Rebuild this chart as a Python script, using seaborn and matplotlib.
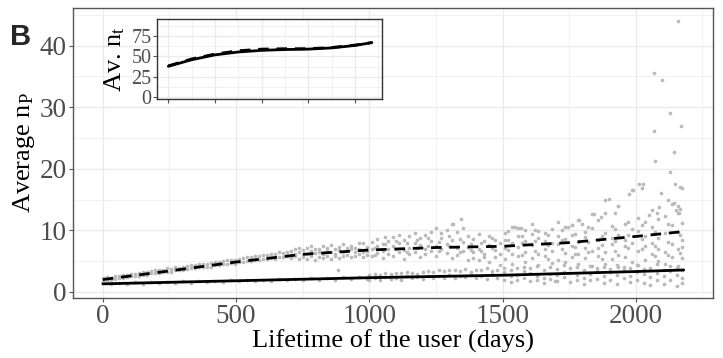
import numpy as np
import pandas as pd
import matplotlib
matplotlib.use("Agg")
import matplotlib.pyplot as plt
from matplotlib.ticker import MultipleLocator
import seaborn as sns

# ---------------- data ----------------
trend_days = [0, 250, 500, 750, 1000, 1250, 1500, 1750, 2000, 2180]
np_dashed = [2.0, 3.4, 4.85, 6.1, 6.8, 7.2, 7.4, 8.0, 9.0, 9.8]
np_solid = [1.3, 1.55, 1.8, 2.05, 2.3, 2.5, 2.7, 3.0, 3.3, 3.55]

inset_days = [0, 250, 500, 750, 1000, 1250, 1500, 1750, 2000, 2180]
nt_dashed = [38.5, 47.0, 53.0, 57.0, 59.0, 59.5, 59.5, 61.0, 64.0, 67.0]
nt_solid = [38.0, 46.0, 52.0, 55.5, 57.5, 58.5, 59.0, 60.5, 63.5, 67.0]

upper_a_days = [0, 15, 30, 45, 60, 75, 90, 105, 120, 135, 150, 165, 180, 195, 210, 225,
                240, 255, 270, 285, 300, 315, 330, 345, 360, 375, 390, 405, 420, 435, 450,
                465, 480, 495, 510, 525, 540, 555, 570, 585, 600, 615, 630, 645, 660, 675, 690]
upper_a_vals = [[2.3, 1.8], [2.0, 2.4], [2.2, 1.9], [2.5, 2.1], [2.2, 2.6], [2.7, 2.3],
                [2.4, 2.8], [2.9, 2.5], [2.6, 2.9], [3.1, 2.6], [2.8, 3.2], [3.2, 2.8],
                [3.0, 3.4], [3.5, 3.0], [3.1, 3.5], [3.6, 3.2], [3.3, 3.8], [3.7, 3.3],
                [3.5, 4.0], [3.9, 3.5], [3.6, 4.1], [4.2, 3.7], [3.8, 4.3], [4.3, 3.8],
                [4.0, 4.5], [4.5, 4.0], [4.1, 4.6], [4.7, 4.1], [4.3, 4.8], [4.8, 4.3],
                [4.5, 5.0], [5.1, 4.5], [4.7, 5.2], [5.2, 4.6], [4.8, 5.4], [5.5, 4.9],
                [5.0, 5.6], [5.6, 5.0], [5.2, 5.8], [5.8, 5.1], [5.4, 6.0], [6.0, 5.3],
                [5.5, 6.2], [6.1, 5.4], [5.7, 6.4], [6.3, 5.6], [5.8, 6.5]]

upper_b_days = [705, 720, 735, 750, 765, 780, 795, 810, 825, 840, 855, 870, 885, 900,
                915, 930, 945, 960, 975, 990]
upper_b_vals = [[6.6, 5.5, 6.0], [5.8, 6.9, 6.2], [6.4, 5.3, 7.1], [6.0, 6.8, 5.6],
                [7.2, 6.2, 5.4], [5.9, 6.6, 7.4], [6.3, 5.2, 7.0], [6.9, 5.7, 6.4],
                [6.1, 7.5, 5.5], [6.7, 5.9, 7.1], [5.4, 6.5, 7.6], [6.2, 7.0, 5.8],
                [6.8, 5.5, 7.3], [6.4, 7.8, 5.9], [7.1, 6.0, 6.6], [5.7, 6.9, 7.5],
                [6.5, 7.2, 5.8], [7.0, 6.2, 8.0], [6.4, 7.9, 5.6], [7.3, 6.6, 6.0]]

upper_c_days = [1010, 1030, 1050, 1070, 1090, 1110, 1130, 1150, 1170, 1190, 1210, 1230,
                1250, 1270, 1290, 1310, 1330, 1350, 1370, 1390, 1410, 1430, 1450, 1470, 1490]
upper_c_vals = [[6.9, 8.1, 5.9], [7.5, 6.3, 8.6], [6.6, 7.8, 5.5], [8.3, 7.0, 6.1],
                [7.4, 8.9, 5.8], [6.5, 7.9, 9.2], [8.5, 6.8, 5.4], [7.2, 9.0, 6.2],
                [8.0, 6.4, 9.6], [7.6, 5.6, 8.7], [9.3, 7.0, 6.1], [8.2, 6.6, 9.8],
                [7.4, 10.3, 5.8], [8.8, 6.9, 9.5], [7.7, 10.1, 6.3], [8.5, 5.5, 11.1],
                [9.8, 7.2, 6.0], [8.1, 10.4, 6.7], [7.3, 9.1, 5.2], [8.6, 6.4, 5.5],
                [7.0, 9.4, 5.2], [8.3, 6.1, 5.7], [7.6, 9.0, 4.9], [6.8, 8.4, 5.6],
                [7.9, 6.2, 4.4]]

upper_d_days = [1510, 1535, 1560, 1585, 1610, 1635, 1660, 1685, 1710, 1735, 1760, 1785,
                1810, 1835, 1860, 1885, 1910, 1935, 1960, 1985, 2010, 2035, 2060, 2085,
                2110, 2135, 2160, 2175]
upper_d_vals = [[7.1, 9.5, 5.3, 8.4], [6.2, 10.6, 8.0, 4.6], [9.0, 7.3, 5.8, 10.3],
                [8.2, 6.5, 10.1, 4.9], [7.6, 9.4, 5.5, 11.0], [8.7, 6.1, 4.3, 9.9],
                [7.0, 9.6, 5.9, 8.3], [10.2, 6.6, 8.0, 4.7], [7.8, 9.1, 5.2, 11.4],
                [6.3, 8.6, 10.5, 4.9], [9.3, 7.4, 5.6, 10.9], [8.1, 6.2, 11.6, 4.5],
                [7.2, 9.8, 5.5, 8.9], [10.4, 6.7, 4.2, 12.6], [8.4, 5.8, 11.7, 7.1],
                [9.6, 6.4, 4.6, 12.8], [7.7, 10.7, 5.3, 8.8], [9.2, 6.0, 13.9, 4.1],
                [11.1, 7.5, 5.6, 8.5], [8.0, 10.2, 4.8, 16.5], [9.9, 6.6, 12.0, 4.3],
                [7.4, 11.3, 5.2, 9.1], [10.6, 6.2, 13.3, 8.0], [8.7, 5.0, 11.8, 7.0],
                [9.5, 6.4, 12.4, 4.5], [7.8, 10.9, 5.6, 14.3], [9.8, 6.9, 12.8, 4.2],
                [8.4, 11.2, 5.5, 7.3]]

# extra points filling the denser middle/late part of the upper cloud
upper_e_days = [1020, 1060, 1100, 1140, 1180, 1220, 1260, 1300, 1340, 1380, 1420, 1460,
                1522, 1572, 1622, 1672, 1722, 1772, 1822, 1872, 1922, 1972, 2022, 2072,
                2122, 2168]
upper_e_vals = [[7.2, 6.0], [7.7, 8.9], [6.9, 8.2], [7.9, 6.5], [8.4, 7.1], [7.5, 8.8],
                [6.7, 8.1], [7.4, 9.0], [8.6, 6.5], [7.8, 6.8], [8.0, 6.6], [7.2, 8.8],
                [8.5, 6.8, 9.9], [7.9, 6.0, 9.1], [8.3, 6.7, 10.1], [7.6, 9.2, 5.4],
                [8.4, 6.9, 10.0], [7.3, 9.4, 6.1], [8.1, 10.6, 6.4], [9.0, 7.6, 5.3],
                [8.2, 10.2, 6.7], [9.3, 7.1, 11.4], [8.6, 10.8, 6.9], [9.7, 7.4, 5.8],
                [8.1, 11.0, 6.0], [9.2, 13.5, 6.3]]

lower_a_days = [0, 30, 60, 90, 120, 150, 180, 210, 240, 270, 300, 330, 360, 390, 420, 450,
                480, 510, 540, 570, 600, 630, 660, 690, 720, 750, 780, 810, 840, 870, 900,
                930, 960, 990]
lower_a_vals = [1.4, 1.2, 1.5, 1.3, 1.55, 1.35, 1.6, 1.4, 1.65, 1.45, 1.7, 1.5, 1.75, 1.55,
                1.8, 1.6, 1.85, 1.7, 1.95, 1.75, 2.0, 1.8, 2.05, 1.85, 2.15, 1.9, 2.2, 1.95,
                2.3, 2.0, 2.35, 2.1, 2.45, 2.15]

lower_b_days = [1000, 1020, 1040, 1060, 1080, 1100, 1120, 1140, 1160, 1180, 1200, 1220,
                1240, 1260, 1280, 1300, 1320, 1340, 1360, 1380, 1400, 1420, 1440, 1460, 1480]
lower_b_vals = [[2.7, 2.0], [2.2, 2.9], [2.8, 1.9], [2.4, 3.0], [2.9, 2.1], [2.3, 3.1],
                [3.0, 2.0], [2.5, 3.2], [3.1, 2.2], [2.4, 2.9], [3.2, 2.1], [2.6, 3.4],
                [3.3, 2.2], [2.5, 3.5], [3.4, 2.3], [2.7, 3.6], [3.5, 2.2], [2.6, 3.4],
                [3.7, 2.4], [2.8, 3.3], [3.6, 2.3], [2.5, 3.5], [3.8, 2.1], [2.9, 3.4],
                [3.5, 2.2]]

lower_c_days = [1505, 1530, 1555, 1580, 1605, 1630, 1655, 1680, 1705, 1730, 1755, 1780,
                1805, 1830, 1855, 1880, 1905, 1930, 1955, 1980, 2005, 2030, 2055, 2080,
                2105, 2130, 2155, 2175]
lower_c_vals = [[3.2, 2.0, 3.9], [2.5, 3.6, 1.6], [3.9, 2.8, 1.9], [2.2, 3.4, 4.1],
                [3.0, 1.7, 3.8], [2.6, 4.2, 2.0], [3.5, 2.3, 1.4], [2.9, 4.0, 2.1],
                [3.7, 1.8, 2.7], [2.4, 3.3, 4.3], [3.1, 1.6, 3.9], [2.7, 4.1, 2.0],
                [3.6, 2.3, 1.3], [2.9, 4.2, 1.9], [3.4, 2.1, 3.8], [2.5, 4.0, 1.5],
                [3.2, 1.9, 3.7], [2.8, 4.3, 1.2], [3.5, 2.2, 4.0], [2.6, 3.9, 1.6],
                [3.3, 2.0, 4.4], [2.9, 1.4, 3.7], [3.8, 2.4, 1.1], [3.1, 4.5, 2.0],
                [2.6, 3.6, 1.3], [3.4, 1.9, 4.2], [2.8, 3.9, 1.0], [3.6, 2.3, 1.5]]

outlier_days = [2159, 2068, 2099, 2127, 2171, 2068, 2142, 2071, 2128, 2013, 2028, 2022,
                1975, 2148, 2166, 2174, 2096, 1886, 1899, 2122, 2143, 2159, 2086, 2049,
                1345, 1316, 1935, 1924, 1870, 1843, 1787, 1800, 1547, 1568, 1746, 1762,
                881, 1696, 1988, 2080, 2153, 2163]
outlier_vals = [44.0, 35.6, 34.5, 29.1, 27.0, 26.1, 22.7, 21.3, 19.5, 17.6, 17.5, 16.8,
                15.9, 17.6, 17.0, 16.9, 16.0, 15.0, 15.1, 15.0, 14.4, 13.9, 13.8, 12.5,
                11.9, 11.1, 13.9, 12.8, 12.1, 12.6, 11.6, 11.1, 10.6, 10.3, 10.5, 10.8,
                3.5, 1.7, 16.5, 12.8, 13.3, 12.8]

# ---------------- assemble tables ----------------
def expand(days, vals):
    xs, ys = [], []
    for d, v in zip(days, vals):
        if isinstance(v, list):
            for vv in v:
                xs.append(d); ys.append(vv)
        else:
            xs.append(d); ys.append(v)
    return xs, ys

px, py = [], []
for d, v in [(upper_a_days, upper_a_vals), (upper_b_days, upper_b_vals),
             (upper_c_days, upper_c_vals), (upper_d_days, upper_d_vals),
             (upper_e_days, upper_e_vals),
             (lower_a_days, lower_a_vals), (lower_b_days, lower_b_vals),
             (lower_c_days, lower_c_vals), (outlier_days, outlier_vals)]:
    a, b = expand(d, v)
    px += a; py += b
points = pd.DataFrame({"days": px, "np": py})

trend = pd.DataFrame({"days": trend_days * 2,
                      "np": np_dashed + np_solid,
                      "kind": ["dashed"] * len(trend_days) + ["solid"] * len(trend_days)})
inset = pd.DataFrame({"days": inset_days * 2,
                      "nt": nt_dashed + nt_solid,
                      "kind": ["dashed"] * len(inset_days) + ["solid"] * len(inset_days)})

# ---------------- style ----------------
sns.set_theme(style="whitegrid")
plt.rcParams["font.family"] = ["Liberation Serif", "DejaVu Serif"]
plt.rcParams["mathtext.fontset"] = "custom"
plt.rcParams["mathtext.rm"] = "Liberation Serif"
plt.rcParams["mathtext.it"] = "Liberation Serif:italic"

GRID = "#EBEBEB"
BORDER = "#555555"
TICKC = "#4D4D4D"
TICKSIZE = 19.5

fig = plt.figure(figsize=(7.23, 3.58), dpi=100)
ax = fig.add_axes([73 / 723, 1 - 298 / 358, (713 - 73) / 723, (298 - 7.5) / 358])

sns.scatterplot(data=points, x="days", y="np", ax=ax, color="#BABABA", s=7,
                linewidth=0, zorder=2, legend=False)
sns.lineplot(data=trend[trend.kind == "dashed"], x="days", y="np", ax=ax, color="black",
             lw=2.0, zorder=3, legend=False)
ax.lines[-1].set_linestyle((0, (3.8, 2.8)))
sns.lineplot(data=trend[trend.kind == "solid"], x="days", y="np", ax=ax, color="black",
             lw=2.0, zorder=3, legend=False)

ax.set_xlim(-112, 2290)
ax.set_ylim(-1.0, 46.2)
ax.xaxis.set_major_locator(MultipleLocator(500))
ax.xaxis.set_minor_locator(MultipleLocator(250))
ax.yaxis.set_major_locator(MultipleLocator(10))
ax.yaxis.set_minor_locator(MultipleLocator(5))
ax.grid(which="major", color=GRID, lw=1.0)
ax.grid(which="minor", color=GRID, lw=0.5)
ax.set_axisbelow(True)
for s in ax.spines.values():
    s.set_color(BORDER); s.set_linewidth(1.0)
ax.tick_params(which="major", length=3, width=0.8, color=BORDER, labelsize=TICKSIZE,
               labelcolor=TICKC, pad=1.5, bottom=True, left=True)
ax.tick_params(which="minor", length=0)
ax.set_xlabel("Lifetime of the user (days)", fontsize=19, color="black", labelpad=0)
ax.set_ylabel(r"Average n$_\mathregular{P}$", fontsize=19, color="black", labelpad=2)

# inset
ins = fig.add_axes([157.3 / 723, 1 - 99.3 / 358, (381.7 - 157.3) / 723, 80 / 358])
ins.set_facecolor("white")
sns.lineplot(data=inset[inset.kind == "dashed"], x="days", y="nt", ax=ins, color="black",
             lw=2.0, legend=False)
ins.lines[-1].set_linestyle((0, (3.8, 2.8)))
sns.lineplot(data=inset[inset.kind == "solid"], x="days", y="nt", ax=ins, color="black",
             lw=2.0, legend=False)
ins.set_xlim(-118, 2285)
ins.set_ylim(-2.4, 95.5)
ins.xaxis.set_major_locator(MultipleLocator(500))
ins.xaxis.set_minor_locator(MultipleLocator(250))
ins.yaxis.set_major_locator(MultipleLocator(25))
ins.yaxis.set_minor_locator(MultipleLocator(12.5))
ins.grid(which="major", color=GRID, lw=1.0)
ins.grid(which="minor", color=GRID, lw=0.5)
ins.set_axisbelow(True)
for s in ins.spines.values():
    s.set_color("#333333"); s.set_linewidth(1.0)
ins.tick_params(which="major", length=3, width=0.8, color=BORDER, labelsize=14.5,
                labelcolor=TICKC, pad=1, bottom=True, left=True)
ins.tick_params(which="minor", length=0)
ins.set_xticklabels([])
ins.set_xlabel("")
ins.set_ylabel(r"Av. n$_\mathregular{t}$", fontsize=19, color="black", labelpad=3)

fig.text(10 / 723, 1 - 45 / 358, "B", fontsize=21, fontweight="bold",
         family=["Liberation Sans", "DejaVu Sans"], va="baseline", ha="left")

fig.savefig("out.png", dpi=100)
